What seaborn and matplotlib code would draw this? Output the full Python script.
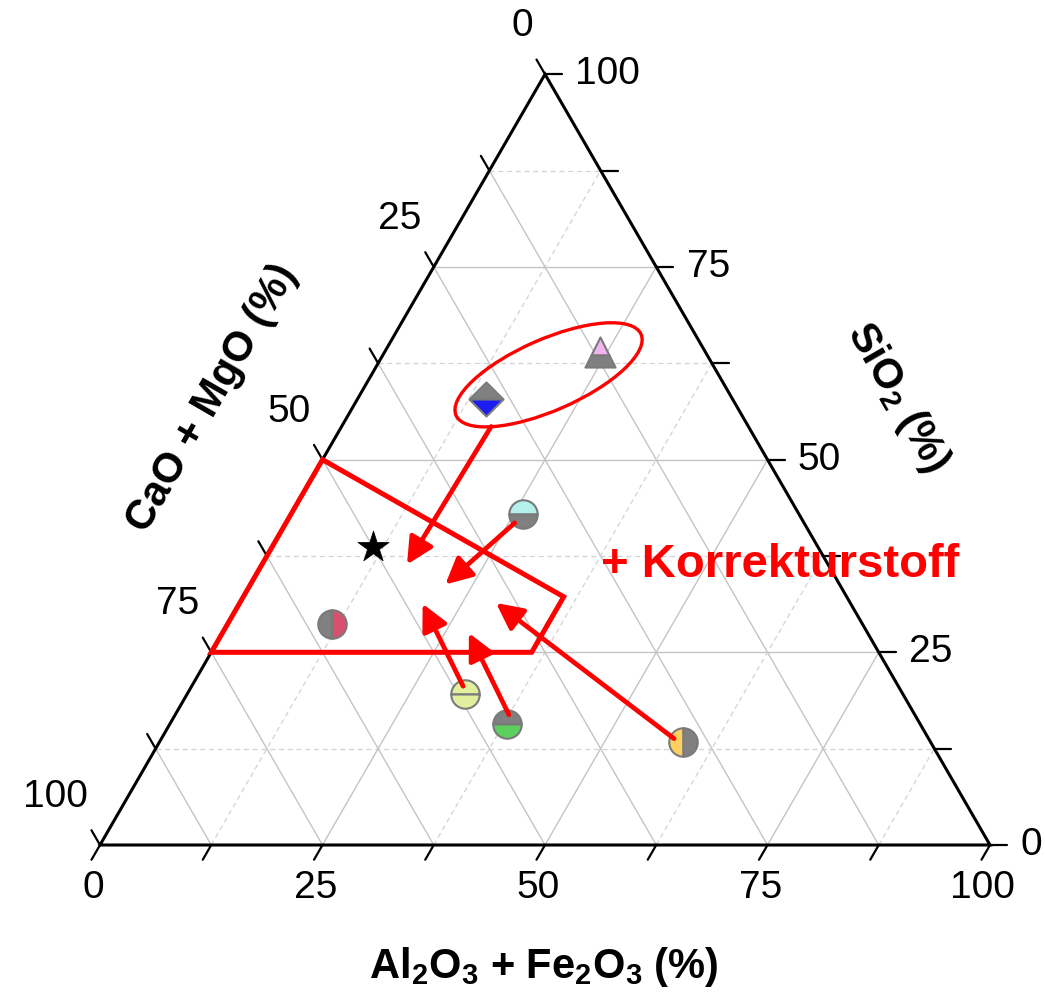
import numpy as np
import pandas as pd
import matplotlib
matplotlib.use("Agg")
import matplotlib.pyplot as plt
import seaborn as sns
from matplotlib.markers import MarkerStyle
from matplotlib.patches import Ellipse, Polygon

sns.set_theme(style="white")
plt.rcParams["font.family"] = ["Liberation Sans", "DejaVu Sans"]
plt.rcParams["mathtext.fontset"] = "custom"
plt.rcParams["mathtext.rm"] = "Liberation Sans"
plt.rcParams["mathtext.bf"] = "Liberation Sans:bold"
plt.rcParams["mathtext.default"] = "regular"

# ---- sample compositions (%), CaO+MgO is the remainder to 100 ----
sample_al_fe = [24.2, 14.5, 26.0, 11.7, 31.2, 37.9, 58.8]
sample_sio2 = [64.0, 57.8, 43.0, 28.7, 19.6, 15.7, 13.4]
sample_marker = ["^", "D", "o", "o", "o", "o", "o"]
sample_split = ["top", "top", "top", "left", "top", "top", "left"]
sample_color_a = ["#f2b4ee", "#808080", "#b4f0ec", "#808080", "#e2f09e", "#808080", "#ffd060"]
sample_color_b = ["#808080", "#1c1cf0", "#808080", "#d9506c", "#e2f09e", "#5cd05c", "#808080"]
sample_size = [470, 300, 420, 420, 420, 420, 420]

# reference composition (star)
star_al_fe = [11.4]
star_sio2 = [38.6]

# target field outline
field_al_fe = [0.0, 36.0, 36.0, 0.0]
field_sio2 = [50.0, 32.2, 25.0, 25.0]

# shift arrows: start -> end
arrow_start_al_fe = [16.8, 25.7, 30.5, 37.5, 57.6]
arrow_start_sio2 = [54.3, 41.8, 20.6, 16.9, 13.8]
arrow_end_al_fe = [16.3, 21.9, 20.6, 27.7, 28.8]
arrow_end_sio2 = [36.4, 33.8, 31.3, 27.5, 31.4]

# highlighted group
ellipse_al_fe, ellipse_sio2 = 19.9, 61.0

tick_values = [0, 25, 50, 75, 100]
grid_step = 12.5

H = np.sqrt(3) / 2


def to_xy(a, s):
    a = np.asarray(a, float)
    s = np.asarray(s, float)
    return a + s / 2, s * H


PX = 8.9  # pixels per unit
fig = plt.figure(figsize=(10.45, 9.96), dpi=100)
ax = fig.add_axes([0, 0, 1, 1])
ax.set_xlim(-100 / PX, 945 / PX)
ax.set_ylim(-151 / PX, 845 / PX)
ax.axis("off")

# ---- grid ----
grid_solid = dict(color="#c4c4c4", lw=1.0, zorder=1)
grid_dash = dict(color="#d2d2d2", lw=0.9, ls=(0, (4, 3)), zorder=1)
for v in np.arange(grid_step, 100, grid_step):
    style = grid_solid if v % 25 == 0 else grid_dash
    # constant SiO2
    x, y = to_xy([0, 100 - v], [v, v])
    ax.plot(x, y, **style)
    # constant Al2O3 + Fe2O3
    x, y = to_xy([v, v], [0, 100 - v])
    ax.plot(x, y, **style)
    # constant CaO + MgO
    x, y = to_xy([0, 100 - v], [100 - v, 0])
    ax.plot(x, y, **grid_solid)

# ---- frame ----
fx, fy = to_xy([0, 100, 0, 0], [0, 0, 100, 0])
ax.plot(fx, fy, color="black", lw=2.2, zorder=3, solid_joinstyle="miter")

# ---- ticks ----
L = 17 / PX
tick_kw = dict(color="black", lw=1.6, zorder=3)
for v in np.arange(0, 100.01, grid_step):
    # bottom axis
    x, y = to_xy(v, 0)
    ax.plot([x, x - 0.5 * L], [y, y - H * L], **tick_kw)
    # right axis
    x, y = to_xy(100 - v, v)
    ax.plot([x, x + L], [y, y], **tick_kw)
    # left axis
    x, y = to_xy(0, 100 - v)
    ax.plot([x, x - 0.5 * L], [y, y + H * L], **tick_kw)

lab_kw = dict(fontsize=28, color="black")
for v in tick_values:
    x, y = to_xy(v, 0)
    ax.text(x - 0.8, y - 4.8, f"{v}", ha="center", va="center", **lab_kw)
    x, y = to_xy(100 - v, v)
    ax.text(x + 3.4, y, f"{v}", ha="left", va="center", **lab_kw)
    x, y = to_xy(0, 100 - v)
    ax.text(x - 1.35, y + 5.4, f"{v}", ha="right", va="center", **lab_kw)

title_kw = dict(fontsize=30, fontweight="bold", color="black", ha="center", va="center")
ax.text(49.9, -13.7, r"Al$_\mathbf{2}$O$_\mathbf{3}$ + Fe$_\mathbf{2}$O$_\mathbf{3}$ (%)", **title_kw)
ax.text(12.6, 50.2, "CaO + MgO (%)", rotation=60, rotation_mode="anchor", **title_kw)
ax.text(89.6, 50.2, r"SiO$_\mathbf{2}$ (%)", rotation=-60, rotation_mode="anchor", **title_kw)

# ---- target field ----
px_, py_ = to_xy(field_al_fe, field_sio2)
ax.add_patch(Polygon(np.column_stack([px_, py_]), closed=True, fill=False,
                     edgecolor="#ff0000", lw=3.6, joinstyle="miter", zorder=5))

# ---- highlighted group ----
ex, ey = to_xy(ellipse_al_fe, ellipse_sio2)
ax.add_patch(Ellipse((ex, ey), 22.7, 8.0, angle=23.7, fill=False,
                     edgecolor="#ff0000", lw=2.4, zorder=5))

# ---- samples ----
sx, sy = to_xy(sample_al_fe, sample_sio2)
samples = pd.DataFrame({"x": sx, "y": sy, "marker": sample_marker, "split": sample_split,
                        "ca": sample_color_a, "cb": sample_color_b, "s": sample_size})
opposite = {"top": "bottom", "left": "right"}
for _, r in samples.iterrows():
    for fs, col in ((r["split"], r["ca"]), (opposite[r["split"]], r["cb"])):
        sns.scatterplot(x=[r["x"]], y=[r["y"]], ax=ax, marker=MarkerStyle(r["marker"], fillstyle=fs),
                        color=col, s=r["s"], edgecolor="#7a7a7a", linewidth=1.5,
                        legend=False, zorder=4)

stx, sty = to_xy(star_al_fe, star_sio2)
sns.scatterplot(x=stx, y=sty, ax=ax, marker="*", color="black", s=560,
                edgecolor="black", linewidth=0.5, legend=False, zorder=4)

# ---- shift arrows ----
ax0, ay0 = to_xy(arrow_start_al_fe, arrow_start_sio2)
ax1, ay1 = to_xy(arrow_end_al_fe, arrow_end_sio2)
for x0, y0, x1, y1 in zip(ax0, ay0, ax1, ay1):
    ax.annotate("", xy=(x1, y1), xytext=(x0, y0),
                arrowprops=dict(arrowstyle="-|>,head_length=0.8,head_width=0.4",
                                mutation_scale=20, lw=3.4, color="#ff0000",
                                shrinkA=0, shrinkB=0),
                zorder=6)

ax.text(76.4, 31.5, "+ Korrekturstoff", fontsize=34, fontweight="bold",
        color="#ff0000", ha="center", va="center", zorder=6)

fig.savefig("out.png", dpi=100)
